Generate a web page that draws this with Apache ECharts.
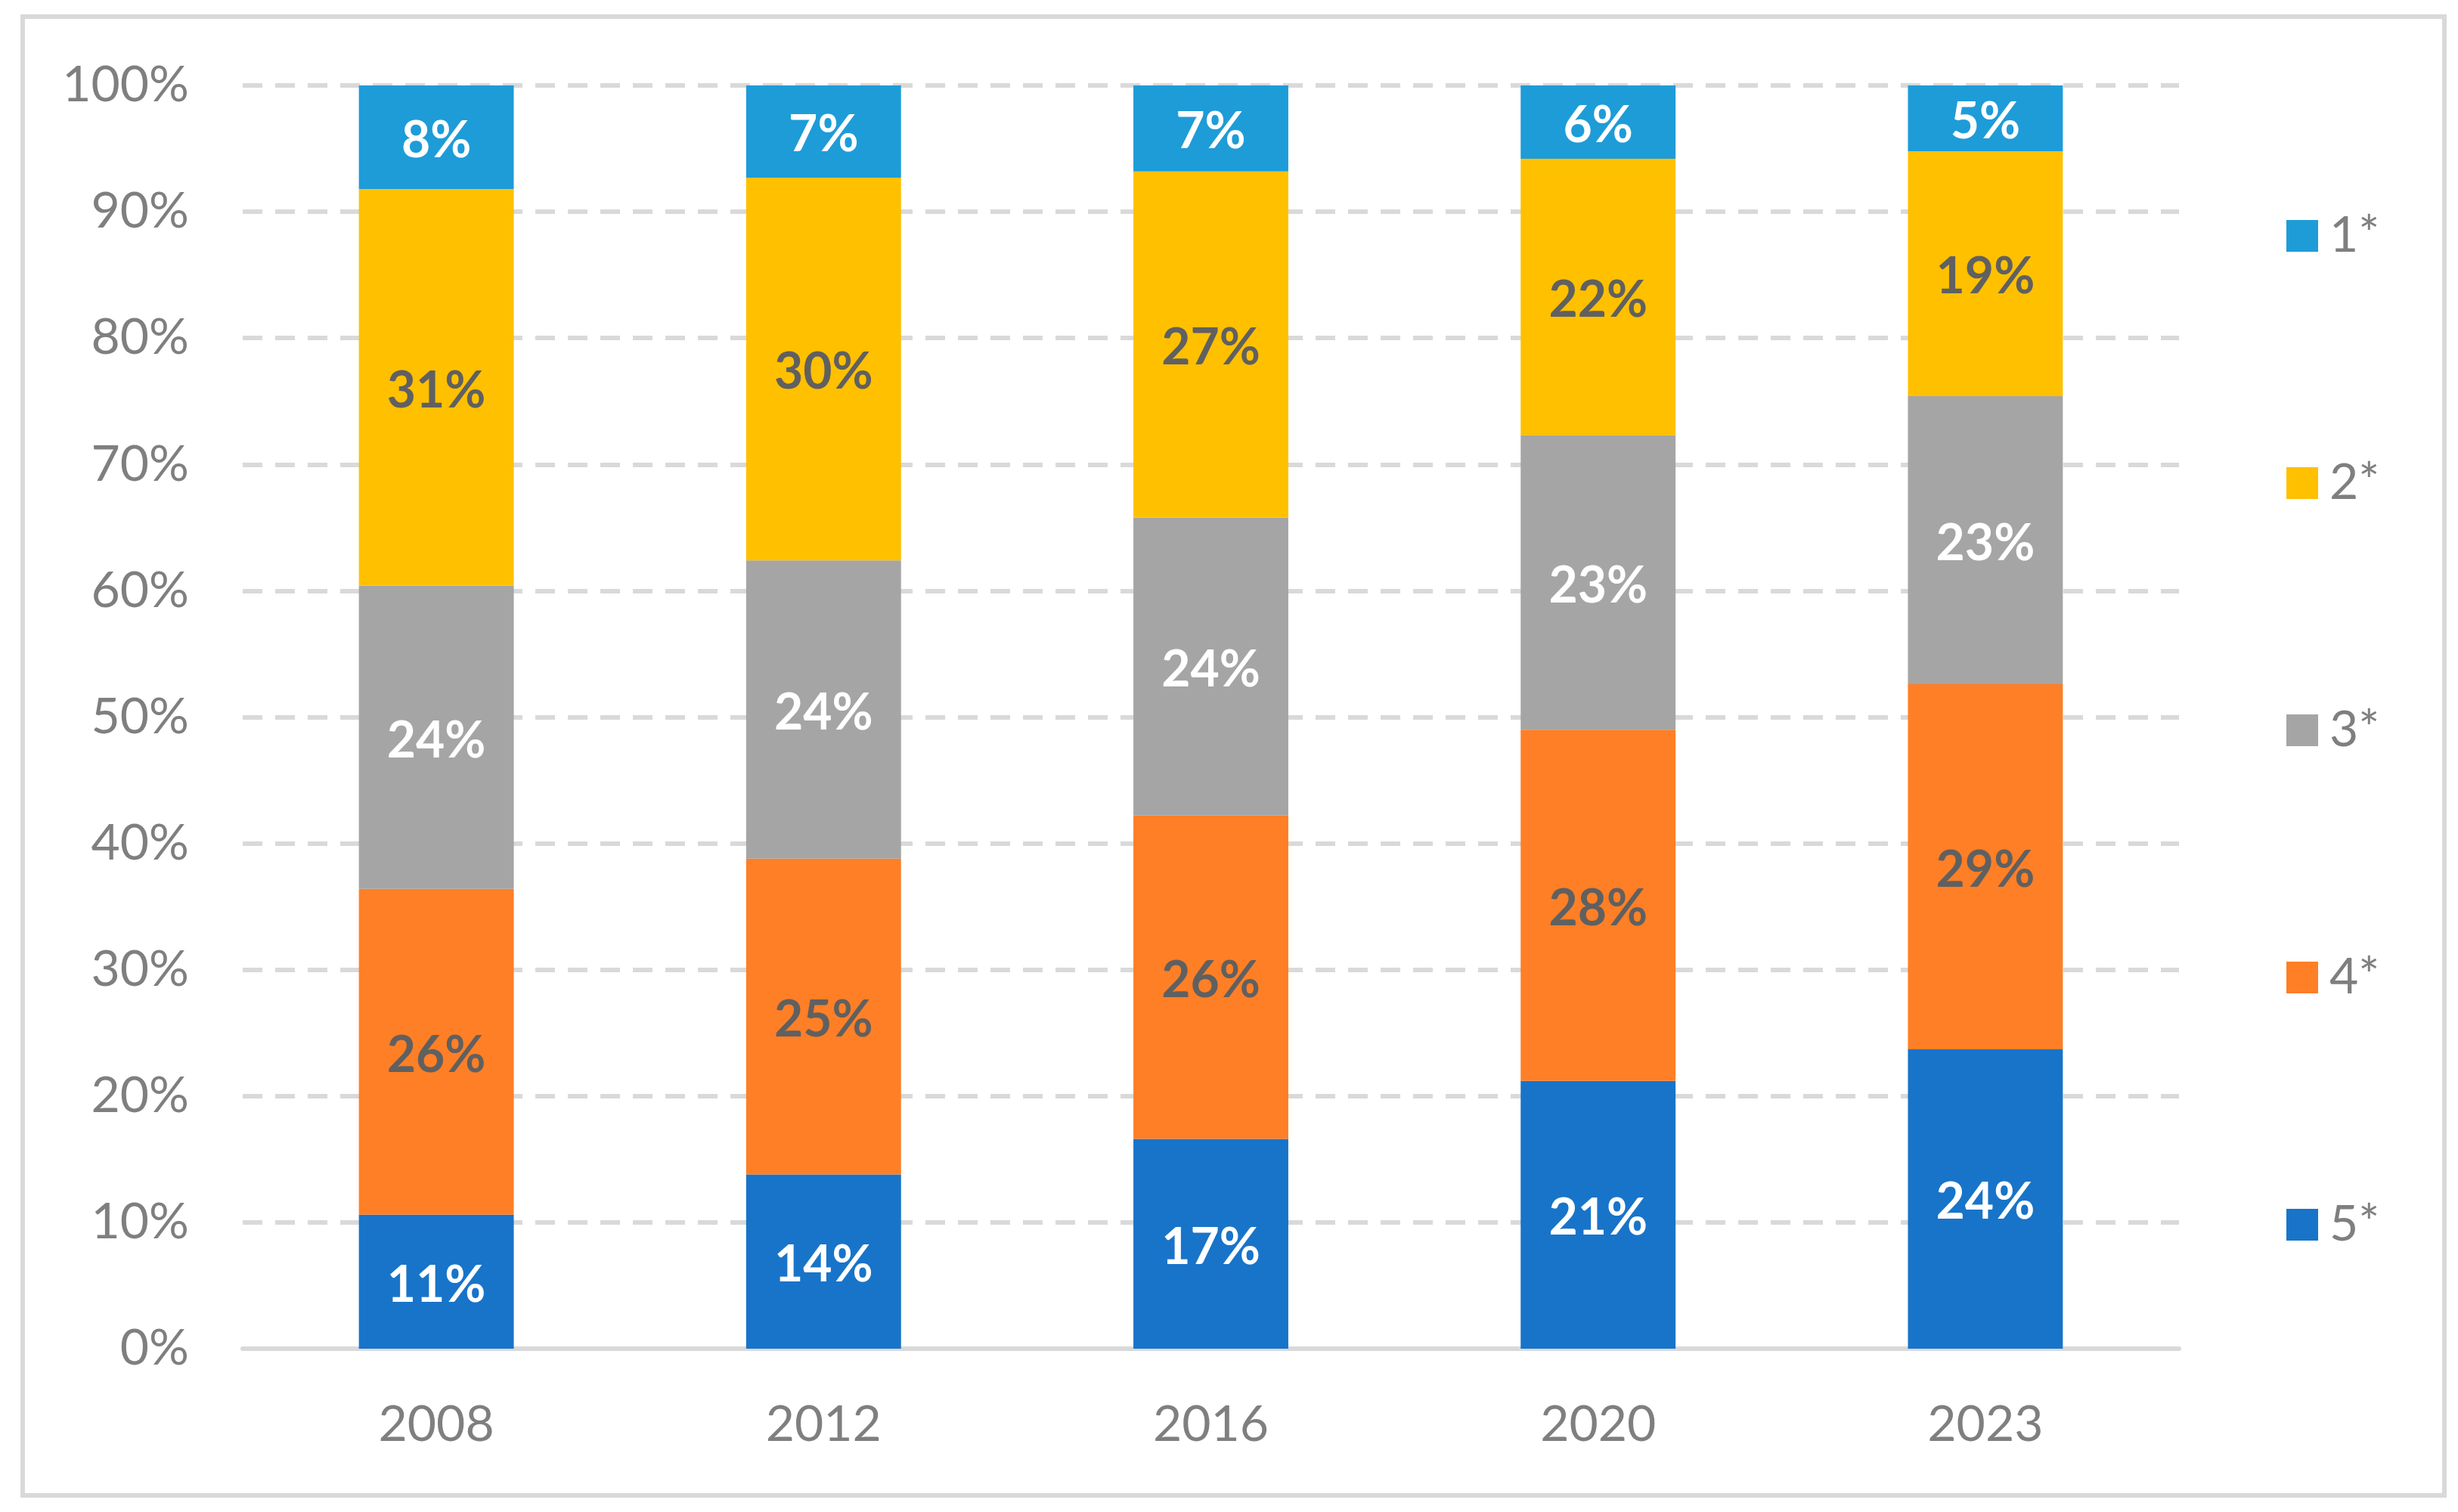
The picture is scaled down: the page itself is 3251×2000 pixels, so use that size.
<!DOCTYPE html>
<html>
<head>
<meta charset="utf-8">
<script src="https://cdn.jsdelivr.net/npm/echarts@6/dist/echarts.min.js"></script>
<style>
html,body{margin:0;padding:0;background:#fff;}
#chart{width:3251px;height:2000px;}
</style>
</head>
<body>
<div id="chart"></div>
<script>
var categories = ['2008', '2012', '2016', '2020', '2023'];
var seriesNames = ['5*', '4*', '3*', '2*', '1*'];
var values5 = [10.6, 13.8, 16.6, 21.2, 23.7];
var values4 = [25.8, 25.0, 25.6, 27.8, 28.9];
var values3 = [24.0, 23.6, 23.6, 23.3, 22.8];
var values2 = [31.4, 30.3, 27.4, 21.9, 19.4];
var values1 = [8.2, 7.3, 6.8, 5.8, 5.2];
var legendOrder = ['1*', '2*', '3*', '4*', '5*'];

var seriesValues = [values5, values4, values3, values2, values1];
var colors = ['#1874C9', '#FE7F26', '#A5A5A5', '#FFC000', '#1E9CD8'];
var labelColors = ['#ffffff', '#606060', '#ffffff', '#606060', '#ffffff'];
var FONT = 'Lato, "Open Sans", sans-serif';

var chart = echarts.init(document.getElementById('chart'));
var series = seriesNames.map(function (name, i) {
  return {
    name: name,
    type: 'bar',
    stack: 'total',
    barWidth: '40%',
    data: seriesValues[i],
    itemStyle: { color: colors[i] },
    label: {
      show: true,
      position: 'inside',
      offset: [0, 5],
      color: labelColors[i],
      fontFamily: FONT,
      fontWeight: 'bold',
      fontSize: 66,
      formatter: function (p) { return Math.round(p.value) + '%'; }
    }
  };
});

chart.setOption({
  animation: false,
  backgroundColor: '#ffffff',
  graphic: [{
    type: 'rect',
    shape: { x: 30, y: 22, width: 3203, height: 1956 },
    style: { fill: 'none', stroke: '#d9d9d9', lineWidth: 6 },
    silent: true
  }],
  grid: { left: 321, right: 369, top: 113, bottom: 216 },
  legend: {
    orient: 'vertical',
    left: 3019,
    top: 274,
    data: legendOrder,
    icon: 'rect',
    itemWidth: 42,
    itemHeight: 42,
    itemGap: 261,
    textStyle: { color: '#7f7f7f', fontSize: 66, lineHeight: 66, fontFamily: FONT, padding: [0, 0, 0, 10] }
  },
  xAxis: {
    type: 'category',
    data: categories,
    axisTick: { show: false },
    axisLine: { lineStyle: { color: '#d9d9d9', width: 6 } },
    axisLabel: { color: '#7f7f7f', fontSize: 66, fontFamily: FONT, margin: 68 }
  },
  yAxis: {
    type: 'value',
    min: 0,
    max: 100,
    interval: 10,
    axisLine: { show: false },
    axisTick: { show: false },
    axisLabel: { color: '#7f7f7f', fontSize: 66, fontFamily: FONT, margin: 71, padding: [8, 0, 0, 0], formatter: '{value}%' },
    splitLine: { lineStyle: { color: '#d9d9d9', width: 6, type: [26, 17] } }
  },
  series: series
});
</script>
</body>
</html>
